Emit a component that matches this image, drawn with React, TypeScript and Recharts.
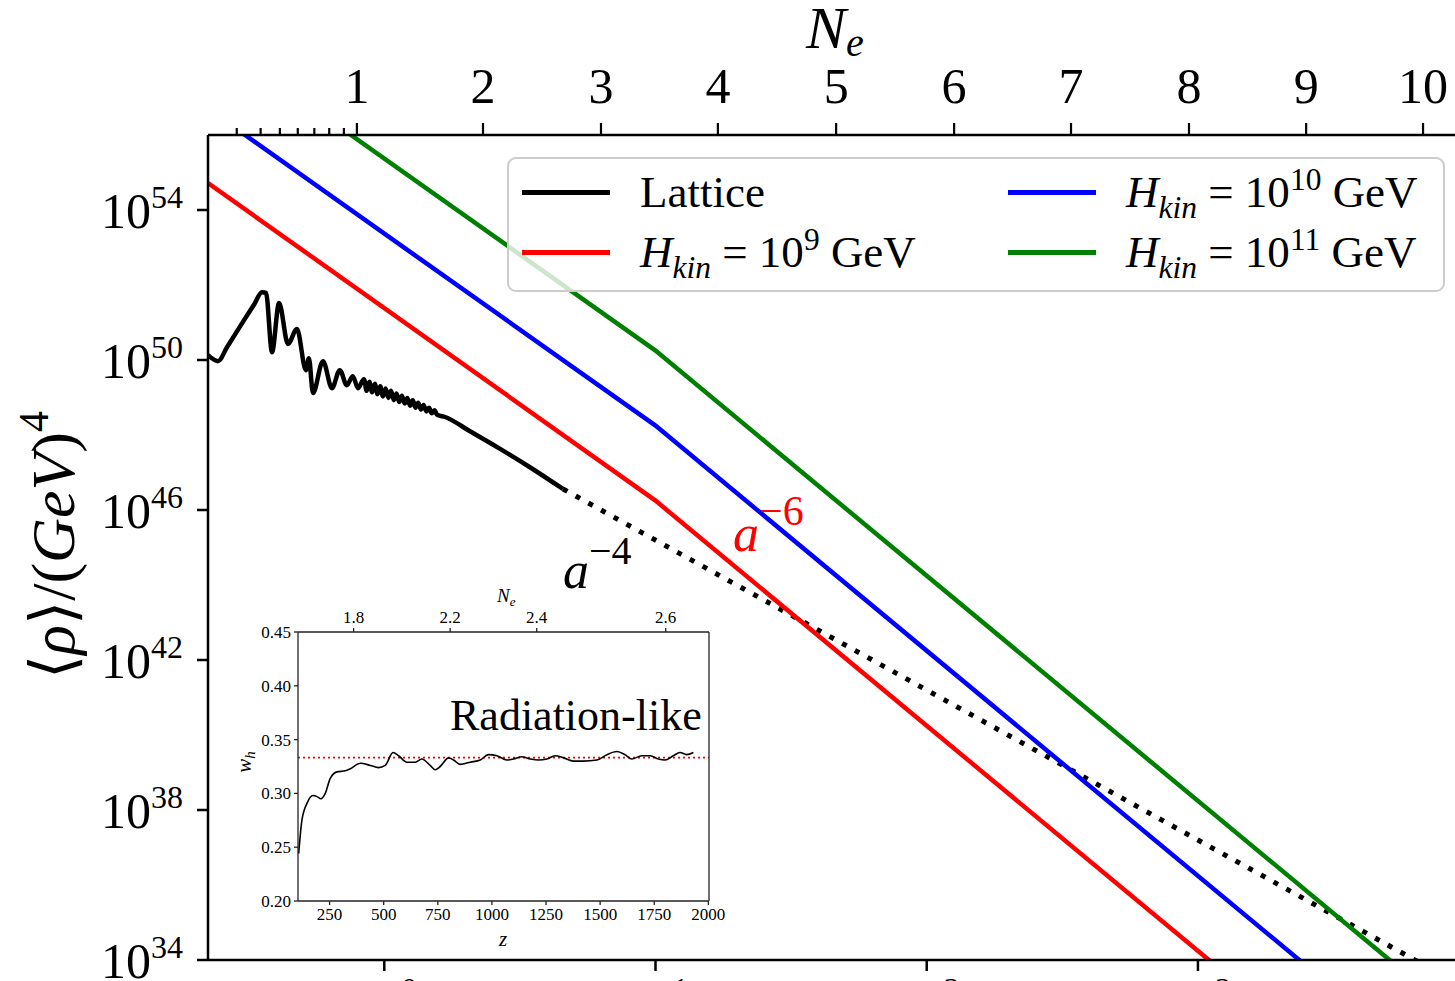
import React from "react";
import { LineChart, Line, XAxis, YAxis, Legend } from "recharts";

const SERIF = '"Liberation Serif", "DejaVu Serif", serif';

// main panel: x = log10(a), y = log10(<rho> / GeV^4)
const X_DOMAIN: [number, number] = [-0.65, 4.04];
const Y_DOMAIN: [number, number] = [34, 56];
const A_DECADES = [0, 1, 2, 3];
const RHO_DECADES = [34, 38, 42, 46, 50, 54];

// e-folds on the top axis and the log10(a) where each one is reached
const NE_LABELS = ["1", "2", "3", "4", "5", "6", "7", "8", "9", "10"];
const NE_AT_LOG_A = [-0.101, 0.364, 0.799, 1.23, 1.666, 2.101, 2.532, 2.967, 3.399, 3.83];
const NE_MINOR_AT_LOG_A = [-0.544, -0.456, -0.385, -0.319, -0.258, -0.203, -0.149];

// lattice energy density
const LATTICE_LOG_A = [
  -0.65, -0.613, -0.58, -0.52, -0.48, -0.451, -0.436, -0.414, -0.388, -0.355, -0.322,
  -0.289, -0.278, -0.263, -0.226, -0.193, -0.164, -0.138, -0.116, -0.097,
  -0.075, -0.065, -0.055, -0.045, -0.035, -0.025, -0.015, -0.005, 0.005, 0.015,
  0.025, 0.035, 0.045, 0.055, 0.065, 0.075, 0.085, 0.095, 0.105, 0.115,
  0.125, 0.135, 0.145, 0.155, 0.165, 0.175, 0.185, 0.195,
  0.224, 0.316, 0.427, 0.537, 0.659,
];
const LATTICE_LOG_RHO = [
  50.13, 49.97, 50.34, 51.03, 51.48, 51.81, 51.79, 50.21, 51.52, 50.43, 50.83,
  49.73, 50.05, 49.12, 49.97, 49.25, 49.73, 49.33, 49.57, 49.25,
  49.49, 49.18, 49.42, 49.14, 49.37, 49.09, 49.3, 49.03, 49.24, 48.99,
  49.18, 48.93, 49.11, 48.88, 49.05, 48.84, 48.99, 48.78, 48.93, 48.73,
  48.86, 48.68, 48.8, 48.63, 48.73, 48.58, 48.66, 48.54,
  48.48, 48.1, 47.63, 47.14, 46.56,
];

// a^-4 continuation of the lattice result
const RADIATION_LOG_A = [0.659, 4.04];
const RADIATION_LOG_RHO = [46.56, 33.04];

// kination models
const H_KIN_EXP = [9, 10, 11];
const H_KIN_COLORS = ["#ff0000", "#0000ff", "#008000"];
const KIN_LOG_A = [-0.65, 1.0, 4.04];
const KIN_LOG_RHO = [
  [54.72, 46.25, 28.0],
  [56.7, 48.25, 30.0],
  [58.7, 50.25, 32.0],
];

// inset: equation of state w_h against z
const Z_DOMAIN: [number, number] = [104, 2003];
const Z_TICKS = [250, 500, 750, 1000, 1250, 1500, 1750, 2000];
const W_TICKS = [0.2, 0.25, 0.3, 0.35, 0.4, 0.45];
const INSET_NE_LABELS = ["1.8", "2.2", "2.4", "2.6"];
const INSET_NE_AT_Z = [361, 807, 1207, 1803];
const W_RADIATION = 1 / 3;
const Z_VALUES = [
  107, 122, 146, 173, 192, 210, 230, 253, 284, 323, 346, 392, 438, 476, 507, 543, 569, 607,
  646, 676, 715, 738, 761, 800, 823, 853, 900, 946, 984, 1023, 1069, 1100, 1138, 1177, 1215,
  1254, 1292, 1331, 1377, 1423, 1485, 1531, 1577, 1615, 1646, 1692, 1731, 1769, 1800, 1838,
  1869, 1900, 1931,
];
const W_VALUES = [
  0.244, 0.275, 0.291, 0.298, 0.297, 0.295, 0.3, 0.314, 0.32, 0.321, 0.323, 0.328, 0.326,
  0.324, 0.326, 0.338, 0.335, 0.329, 0.329, 0.332, 0.326, 0.322, 0.325, 0.333, 0.331, 0.327,
  0.329, 0.331, 0.336, 0.335, 0.331, 0.332, 0.334, 0.332, 0.331, 0.332, 0.335, 0.333, 0.33,
  0.33, 0.331, 0.336, 0.339, 0.336, 0.332, 0.335, 0.335, 0.332, 0.331, 0.335, 0.338, 0.336,
  0.338,
];

const zip = (xs: number[], ys: number[]) => xs.map((x, i) => ({ x, y: ys[i] }));

const latticeData = zip(LATTICE_LOG_A, LATTICE_LOG_RHO);
const radiationData = zip(RADIATION_LOG_A, RADIATION_LOG_RHO);
const kinData = KIN_LOG_RHO.map((ys) => zip(KIN_LOG_A, ys));
const wData = Z_VALUES.map((z, i) => ({ z, w: W_VALUES[i] }));
// horizontal w = 1/3 guide across the whole inset
const wRadiationData = Z_DOMAIN.map((z) => ({ z, w: W_RADIATION }));

const PLOT_TOP = 135;
const AXIS = { stroke: "#000", strokeWidth: 2.5 };
const INSET_AXIS = { stroke: "#222", strokeWidth: 1.3 };

function DecadeTickY({ x, y, payload }: any) {
  return (
    <text x={x} y={y + 18} textAnchor="end" fontFamily={SERIF} fontSize={50} fill="#000">
      10
      <tspan dy={-20} fontSize={32}>
        {payload.value}
      </tspan>
    </text>
  );
}

function DecadeTickX({ x, y, payload }: any) {
  return (
    <text x={x} y={y + 47} textAnchor="middle" fontFamily={SERIF} fontSize={50} fill="#000">
      10
      <tspan dy={-20} fontSize={32}>
        {payload.value}
      </tspan>
    </text>
  );
}

function NeTick({ x, payload }: any) {
  const i = NE_AT_LOG_A.indexOf(payload.value);
  const major = i >= 0;
  return (
    <g>
      <line x1={x} x2={x} y1={PLOT_TOP} y2={PLOT_TOP - (major ? 12 : 7)} stroke="#000" strokeWidth={2.2} />
      {major && (
        <text x={x} y={103} textAnchor="middle" fontFamily={SERIF} fontSize={50} fill="#000">
          {NE_LABELS[i]}
        </text>
      )}
    </g>
  );
}

function HKinLabel({ exp }: { exp: number }) {
  return (
    <span>
      <i>H</i>
      <i style={{ fontSize: "0.7em", position: "relative", top: "0.35em" }}>kin</i>
      {"\u2005=\u200510"}
      <span style={{ fontSize: "0.7em", position: "relative", top: "-0.55em" }}>{exp}</span>
      {" GeV"}
    </span>
  );
}

// two column legend, filled column by column
function LegendBox() {
  const entries = [
    { color: "#000", label: <span>Lattice</span> },
    ...H_KIN_EXP.map((e, i) => ({ color: H_KIN_COLORS[i], label: <HKinLabel exp={e} /> })),
  ];
  const colX = [13, 499];
  const rowY = [33, 93];
  return (
    <div
      style={{
        position: "relative",
        width: 938,
        height: 135,
        boxSizing: "border-box",
        border: "2px solid #cccccc",
        borderRadius: 9,
        background: "rgba(255,255,255,0.8)",
        fontFamily: SERIF,
        fontSize: 45,
        color: "#000",
      }}
    >
      {entries.map((e, i) => {
        const cx = colX[Math.floor(i / 2)];
        const cy = rowY[i % 2];
        return (
          <React.Fragment key={i}>
            <div style={{ position: "absolute", left: cx, top: cy - 2.5, width: 88, height: 5, background: e.color }} />
            <div
              style={{
                position: "absolute",
                left: cx + 118,
                top: cy - 28,
                height: 56,
                lineHeight: "56px",
                whiteSpace: "nowrap",
              }}
            >
              {e.label}
            </div>
          </React.Fragment>
        );
      })}
    </div>
  );
}

function EnergyPanel() {
  return (
    <LineChart width={1480} height={1000} margin={{ top: 0, right: 0, bottom: 0, left: 0 }}>
      <XAxis
        type="number"
        dataKey="x"
        domain={X_DOMAIN}
        allowDataOverflow
        ticks={A_DECADES}
        interval={0}
        height={40}
        tickSize={11}
        tickMargin={2}
        axisLine={AXIS}
        tickLine={AXIS}
        tick={<DecadeTickX />}
      />
      <XAxis
        xAxisId="top"
        orientation="top"
        type="number"
        dataKey="x"
        domain={X_DOMAIN}
        allowDataOverflow
        ticks={[...NE_MINOR_AT_LOG_A, ...NE_AT_LOG_A]}
        interval={0}
        height={PLOT_TOP}
        axisLine={AXIS}
        tickLine={false}
        tick={<NeTick />}
      />
      <YAxis
        type="number"
        dataKey="y"
        domain={Y_DOMAIN}
        allowDataOverflow
        ticks={RHO_DECADES}
        interval={0}
        width={208}
        tickSize={11}
        tickMargin={14}
        axisLine={AXIS}
        tickLine={AXIS}
        tick={<DecadeTickY />}
      />
      {/* lattice result and its extrapolation share the top (same domain) axis */}
      <Line
        xAxisId="top"
        data={latticeData}
        dataKey="y"
        type="monotone"
        stroke="#000"
        strokeWidth={4.5}
        strokeLinejoin="round"
        dot={false}
        isAnimationActive={false}
      />
      <Line
        xAxisId="top"
        data={radiationData}
        dataKey="y"
        type="linear"
        stroke="#000"
        strokeWidth={5}
        strokeDasharray="5 9.5"
        dot={false}
        isAnimationActive={false}
      />
      {kinData.map((d, i) => (
        <Line
          key={i}
          data={d}
          dataKey="y"
          type="linear"
          stroke={H_KIN_COLORS[i]}
          strokeWidth={4.5}
          dot={false}
          isAnimationActive={false}
        />
      ))}
      <Legend
        layout="horizontal"
        verticalAlign="middle"
        align="center"
        wrapperStyle={{ left: 507, top: 157, width: 938, height: 135 }}
        content={() => <LegendBox />}
      />
    </LineChart>
  );
}

function EosInset() {
  const tickFont = { fontFamily: SERIF, fontSize: 17, fill: "#000" };
  return (
    <LineChart width={500} height={371} margin={{ top: 0, right: 0, bottom: 0, left: 0 }}>
      <XAxis
        type="number"
        dataKey="z"
        domain={Z_DOMAIN}
        allowDataOverflow
        ticks={Z_TICKS}
        interval={0}
        height={50}
        tickSize={4}
        tickMargin={3}
        axisLine={INSET_AXIS}
        tickLine={INSET_AXIS}
        tick={tickFont}
      />
      <XAxis
        xAxisId="ne"
        orientation="top"
        type="number"
        dataKey="z"
        domain={Z_DOMAIN}
        allowDataOverflow
        ticks={INSET_NE_AT_Z}
        interval={0}
        height={52}
        tickSize={4}
        tickMargin={5}
        axisLine={INSET_AXIS}
        tickLine={INSET_AXIS}
        tick={tickFont}
        tickFormatter={(v: number) => INSET_NE_LABELS[INSET_NE_AT_Z.indexOf(v)]}
      />
      <YAxis
        type="number"
        dataKey="w"
        domain={[0.2, 0.45]}
        allowDataOverflow
        ticks={W_TICKS}
        interval={0}
        width={68}
        tickSize={4}
        tickMargin={3}
        axisLine={INSET_AXIS}
        tickLine={INSET_AXIS}
        tick={tickFont}
        tickFormatter={(v: number) => v.toFixed(2)}
      />
      <YAxis
        yAxisId="right"
        orientation="right"
        type="number"
        domain={[0.2, 0.45]}
        width={21}
        tick={false}
        tickLine={false}
        axisLine={INSET_AXIS}
      />
      <Line
        xAxisId="ne"
        data={wRadiationData}
        dataKey="w"
        type="linear"
        stroke="#ff0000"
        strokeWidth={1.8}
        strokeDasharray="2 3"
        dot={false}
        isAnimationActive={false}
      />
      <Line
        data={wData}
        dataKey="w"
        type="monotone"
        stroke="#000"
        strokeWidth={1.6}
        dot={false}
        isAnimationActive={false}
      />
    </LineChart>
  );
}

function Annotations() {
  return (
    <svg
      width={1455}
      height={981}
      style={{ position: "absolute", left: 0, top: 0, pointerEvents: "none" }}
      fontFamily={SERIF}
    >
      <text x={806} y={48} fontSize={60} fontStyle="italic" fill="#000">
        N
        <tspan dy={8} fontSize={40}>
          e
        </tspan>
      </text>
      <text transform="translate(74,545) rotate(-90)" textAnchor="middle" fontSize={62} fill="#000">
        {"\u27E8"}
        <tspan fontStyle="italic">ρ</tspan>
        {"\u27E9/("}
        <tspan fontStyle="italic">GeV</tspan>
        {")"}
        <tspan dy={-26} fontSize={42}>
          4
        </tspan>
      </text>
      <text x={733} y={551} fontSize={52} fontStyle="italic" fill="#ff0000">
        a
        <tspan dy={-26} fontSize={42} fontStyle="normal">
          {"\u22126"}
        </tspan>
      </text>
      <text x={563} y={588} fontSize={52} fontStyle="italic" fill="#000">
        a
        <tspan dy={-24} fontSize={40} fontStyle="normal">
          {"\u22124"}
        </tspan>
      </text>
      <text x={450} y={730} fontSize={44} fill="#000">
        Radiation-like
      </text>
      <text x={497} y={602} fontSize={19} fontStyle="italic" fill="#000">
        N
        <tspan dy={4} fontSize={13}>
          e
        </tspan>
      </text>
      <text x={503} y={946} textAnchor="middle" fontSize={21} fontStyle="italic" fill="#000">
        z
      </text>
      <text transform="translate(251,762) rotate(-90)" textAnchor="middle" fontSize={21} fontStyle="italic" fill="#000">
        w
        <tspan dy={4} fontSize={15}>
          h
        </tspan>
      </text>
    </svg>
  );
}

export default function App() {
  return (
    <div
      style={{
        position: "absolute",
        left: 0,
        top: 0,
        width: 1455,
        height: 981,
        overflow: "hidden",
        background: "#fff",
        fontFamily: SERIF,
      }}
    >
      <EnergyPanel />
      <div style={{ position: "absolute", left: 230, top: 580 }}>
        <EosInset />
      </div>
      <Annotations />
    </div>
  );
}
